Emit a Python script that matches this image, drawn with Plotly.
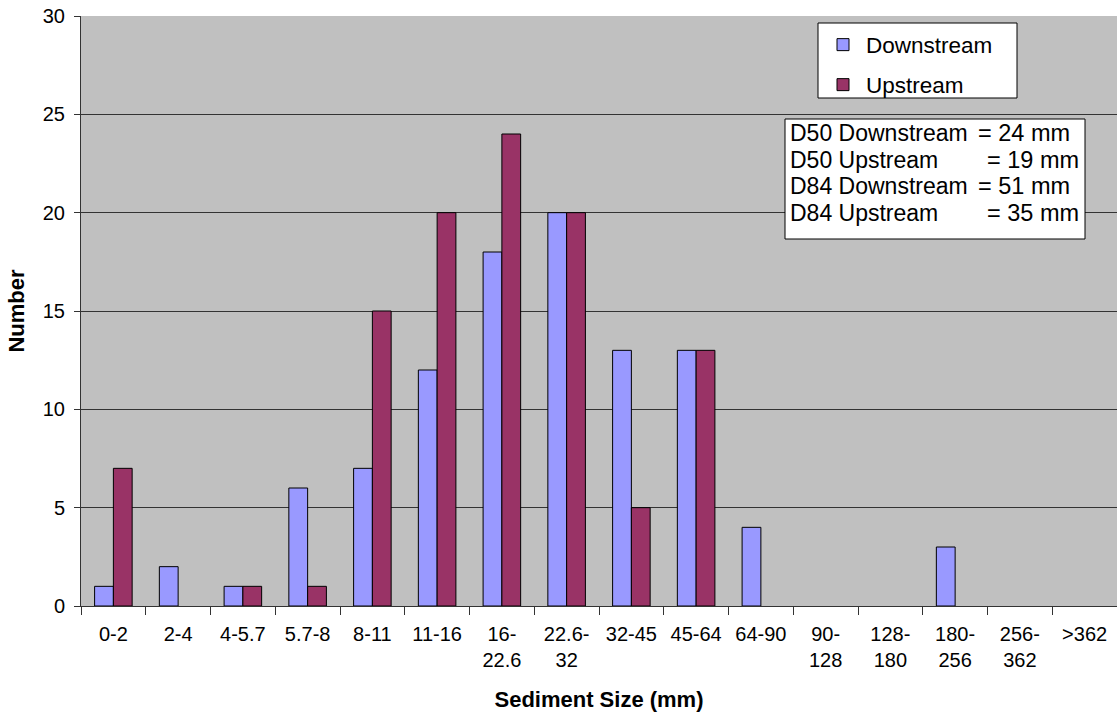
import plotly.graph_objects as go

# Sediment size classes (mm) and pebble counts per site
size_classes = ["0-2", "2-4", "4-5.7", "5.7-8", "8-11", "11-16", "16-<br>22.6", "22.6-<br>32",
                "32-45", "45-64", "64-90", "90-<br>128", "128-<br>180", "180-<br>256", "256-<br>362", ">362"]
downstream = [1, 2, 1, 6, 7, 12, 18, 20, 13, 13, 4, 0, 0, 3, 0, 0]
upstream = [7, 0, 1, 1, 15, 20, 24, 20, 5, 13, 0, 0, 0, 0, 0, 0]
y_ticks = [0, 5, 10, 15, 20, 25, 30]

stats_labels = ["D50 Downstream", "D50 Upstream", "D84 Downstream", "D84 Upstream"]
stats_values = ["= 24 mm", "= 19 mm", "= 51 mm", "= 35 mm"]

FONT = "Liberation Sans, Arial, sans-serif"


def outline_widths(values):
    # empty classes get no outline so no flat sliver is drawn
    return [1 if v > 0 else 0 for v in values]


fig = go.Figure()
fig.add_trace(go.Bar(x=size_classes, y=downstream, name="Downstream",
                     marker=dict(color="#9999FF",
                                 line=dict(color="black", width=outline_widths(downstream))),
                     legend="legend"))
fig.add_trace(go.Bar(x=size_classes, y=upstream, name="Upstream",
                     marker=dict(color="#993366",
                                 line=dict(color="black", width=outline_widths(upstream))),
                     legend="legend2"))

W, H = 1117, 716
L, R, T, B = 81, 0, 16, 110
pw, ph = W - L - R, H - T - B


def px(x):
    return (x - L) / pw


def py(y):
    return (H - B - y) / ph


shapes = [
    # legend frame
    dict(type="rect", xref="paper", yref="paper",
         x0=px(818), x1=px(1017), y0=py(98), y1=py(23),
         fillcolor="white", line=dict(color="black", width=1), layer="above"),
    # statistics box
    dict(type="rect", xref="paper", yref="paper",
         x0=px(785), x1=px(1085), y0=py(239), y1=py(119),
         fillcolor="white", line=dict(color="black", width=1), layer="above"),
]
annotations = []
row_y = [133, 160, 186, 213]
value_x = [976, 985, 976, 985]
for lab, val, yy, vx in zip(stats_labels, stats_values, row_y, value_x):
    annotations.append(dict(text=lab, x=px(788), y=py(yy), xref="paper", yref="paper",
                            xanchor="left", yanchor="middle", showarrow=False,
                            font=dict(family=FONT, size=23, color="black")))
    annotations.append(dict(text=val, x=px(vx), y=py(yy), xref="paper", yref="paper",
                            xanchor="left", yanchor="middle", showarrow=False,
                            font=dict(family=FONT, size=23.5, color="black")))

legend_style = dict(xanchor="left", yanchor="middle", bgcolor="rgba(0,0,0,0)", borderwidth=0,
                    font=dict(family=FONT, size=22.5, color="black"), itemwidth=36)

fig.update_layout(
    width=W, height=H,
    margin=dict(l=L, r=R, t=T, b=B, pad=0),
    paper_bgcolor="white",
    plot_bgcolor="#C0C0C0",
    barmode="group",
    bargap=0.42,
    bargroupgap=0,
    font=dict(family=FONT, size=20, color="black"),
    showlegend=True,
    legend=dict(x=px(820), y=py(45), **legend_style),
    legend2=dict(x=px(820), y=py(85), **legend_style),
    shapes=shapes,
    annotations=annotations,
    xaxis=dict(
        title=dict(text="<b>Sediment Size (mm)</b>", font=dict(family=FONT, size=22), standoff=21),
        tickson="boundaries", ticks="outside", ticklen=8, tickcolor="#333333",
        ticklabelstandoff=10,
        showline=True, linecolor="#333333", linewidth=1,
        tickfont=dict(family=FONT, size=20),
        showgrid=False, fixedrange=True,
    ),
    yaxis=dict(
        title=dict(text="<b>Number</b>", font=dict(family=FONT, size=22), standoff=12),
        range=[0, 30], tickvals=y_ticks, ticks="outside", ticklen=6, tickcolor="#333333",
        ticklabelstandoff=5,
        showline=True, linecolor="#333333", linewidth=1,
        showgrid=True, gridcolor="#333333", gridwidth=1,
        zeroline=False, tickfont=dict(family=FONT, size=20),
        fixedrange=True,
    ),
)

fig.write_html("out.html")
